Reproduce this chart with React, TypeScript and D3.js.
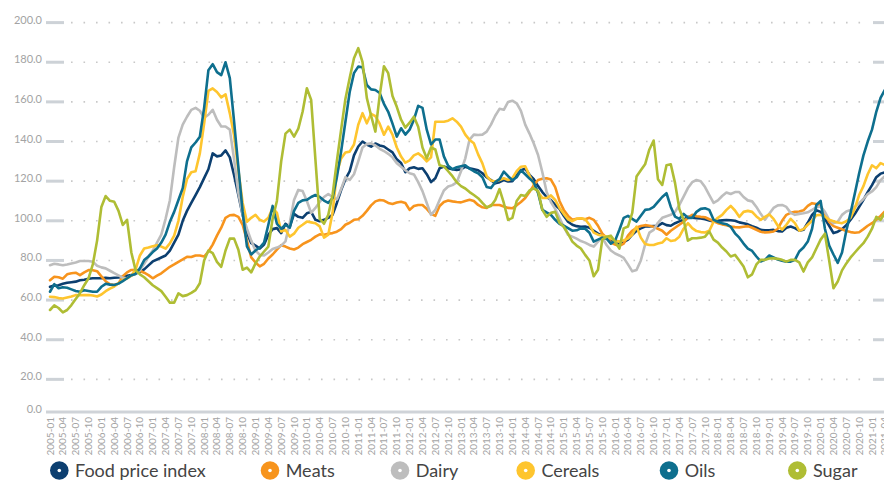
import React from "react";
import * as d3 from "d3";

// Monthly values, 2005-01 .. 2021-04
const FOOD_PRICE_INDEX = [
  66.7, 67.3, 67.5, 68.2, 68.7, 69.0, 69.3, 70.0, 70.3, 70.8, 71.0, 71.0,
  71.0, 71.2, 71.0, 71.3, 71.4, 71.8, 72.2, 72.6, 73.4, 74.2, 75.5, 77.5,
  79.5, 80.5, 81.5, 82.5, 85.0, 89.0, 93.0, 100.0, 105.0, 109.0, 113.0, 117.0,
  121.5, 126.0, 134.0, 132.5, 133.0, 135.5, 132.0, 123.0, 113.0, 103.0, 94.0, 88.7,
  87.5, 86.0, 88.0, 93.0, 95.8, 96.3, 93.8, 98.5, 97.0, 103.5, 102.0, 101.5,
  103.8, 104.5, 100.5, 99.8, 100.5, 101.5, 103.0, 109.0, 115.5, 121.0, 125.0, 133.0,
  137.5, 140.0, 138.5, 137.4, 139.0, 138.0, 137.5, 136.0, 134.5, 131.0, 129.2, 124.5,
  126.5, 127.0, 126.2, 126.5, 123.5, 119.5, 121.5, 126.5, 127.4, 126.5, 126.0, 125.7,
  126.0, 127.3, 126.5, 126.0, 125.5, 124.0, 122.0, 120.5, 118.9, 119.5, 120.6, 119.8,
  120.0, 123.0, 125.5, 126.3, 123.2, 121.0, 117.5, 114.5, 112.0, 110.5, 108.0, 106.0,
  102.5, 99.5, 98.0, 97.3, 97.0, 97.1, 96.5, 95.0, 93.5, 92.5, 91.5, 90.5,
  88.5, 88.5, 89.2, 90.5, 93.0, 95.0, 96.2, 97.1, 97.2, 97.4, 97.4, 98.8,
  97.8, 97.5, 98.8, 99.7, 100.5, 102.0, 101.5, 101.3, 101.2, 100.8, 100.2, 99.6,
  100.0, 100.2, 100.4, 100.3, 100.0, 99.2, 98.8, 98.2, 97.3, 96.5, 95.4, 95.2,
  95.2, 95.4, 94.8, 94.6, 96.5, 97.1, 96.3, 95.0, 95.5, 99.0, 103.0, 105.3,
  104.5, 101.0, 97.5, 93.8, 94.5, 95.8, 97.8, 100.5, 103.5, 107.0, 110.6, 114.5,
  118.0, 122.0, 123.8, 124.5,
];

const MEATS = [
  70.0, 71.8, 71.5, 70.8, 73.0, 73.5, 73.8, 72.6, 74.0, 75.1, 75.1, 74.6,
  72.0, 69.5, 68.0, 67.6, 68.4, 72.0, 74.0, 75.2, 75.3, 74.8, 73.8, 72.6,
  71.0, 72.3, 73.5, 75.2, 76.8, 78.0, 79.3, 80.5, 81.8, 81.7, 82.5, 82.5,
  82.0, 84.5, 88.0, 92.5, 96.5, 101.5, 102.8, 103.0, 102.0, 98.0, 90.0, 81.5,
  79.0, 77.0, 78.3, 81.0, 83.0, 85.5, 87.7, 87.0, 86.0, 85.5, 86.5, 88.2,
  89.3, 90.4, 92.0, 93.2, 93.0, 93.5, 93.8, 94.5, 95.8, 98.0, 99.0, 100.5,
  100.8, 102.5, 105.0, 107.8, 109.8, 110.5, 110.2, 109.0, 108.5, 109.2, 109.6, 109.0,
  105.5, 107.5, 108.0, 108.0, 106.0, 103.5, 102.5, 107.5, 109.5, 110.2, 109.8, 109.5,
  109.3, 110.0, 110.6, 110.0, 108.0, 106.8, 106.5, 108.0, 108.0, 108.0, 107.2, 106.5,
  106.3, 107.8, 109.5, 111.5, 114.5, 118.0, 120.6, 121.2, 121.5, 120.8, 117.0, 110.0,
  105.5, 102.5, 100.5, 101.0, 101.2, 100.8, 101.5, 100.5, 97.5, 93.5, 91.5, 89.0,
  88.0, 87.3, 88.5, 92.5, 95.0, 96.5, 97.4, 97.8, 97.5, 97.0, 96.0, 95.0,
  93.0, 95.0, 96.5, 98.0, 99.5, 101.5, 103.0, 102.3, 102.0, 101.8, 100.8, 99.8,
  98.8, 98.2, 97.8, 97.1, 96.8, 96.7, 97.0, 97.3, 96.5, 95.5, 94.5, 94.1,
  94.3, 94.6, 96.0, 100.0, 103.0, 104.0, 104.5, 104.7, 105.3, 107.5, 108.9, 108.5,
  107.5, 103.5, 99.5, 97.3, 96.5, 95.7, 94.8, 94.3, 94.0, 94.2, 95.8, 97.5,
  98.8, 100.5, 102.5, 104.7,
];

const DAIRY = [
  77.6, 78.3, 78.0, 77.6, 78.0, 78.5, 79.0, 79.7, 79.7, 79.7, 79.3, 77.3,
  76.5, 76.0, 74.8, 73.6, 72.5, 71.2, 71.0, 72.3, 73.2, 75.1, 78.3, 82.0,
  85.0, 89.0, 93.0, 101.0, 110.4, 127.0, 142.0, 148.5, 152.5, 156.0, 157.0, 155.5,
  152.0, 153.5, 156.0, 151.0, 147.6, 147.6, 146.0, 131.0, 114.0, 103.0, 96.0, 90.0,
  85.0, 82.8, 82.5, 84.0, 85.8, 86.5, 87.5, 89.6, 99.0, 110.5, 115.6, 115.0,
  110.0, 104.0, 106.5, 109.5, 112.0, 113.5, 112.0, 110.8, 116.0, 122.0, 120.6, 123.5,
  130.0, 137.0, 138.7, 139.1, 138.0, 136.3, 135.2, 133.8, 132.0, 129.0, 127.3, 125.5,
  124.0, 123.4, 119.5, 115.0, 109.0, 103.0, 105.5, 110.5, 115.3, 117.3, 118.0, 119.4,
  125.0, 131.5, 141.0, 143.5, 143.3, 143.5, 145.0, 148.5, 153.0, 156.5, 156.0, 160.0,
  160.6, 159.3, 155.5, 148.5, 144.0, 139.0, 133.2, 124.5, 114.5, 109.5, 106.0, 101.5,
  97.0, 92.9, 92.0, 91.0, 89.8, 89.0, 87.8, 87.0, 89.5, 91.5, 87.8, 85.0,
  83.5, 82.5, 81.3, 78.0, 74.5, 75.2, 80.0, 88.0, 94.0, 95.4, 99.0, 101.5,
  102.3, 103.0, 104.5, 108.0, 112.2, 116.5, 119.5, 120.6, 120.0, 117.0, 113.0, 109.0,
  110.3, 112.5, 114.3, 113.5, 114.5, 114.5, 112.0, 110.3, 109.8, 107.0, 103.5, 100.5,
  103.5, 106.5, 107.8, 108.0, 107.0, 104.0, 103.0, 103.5, 103.8, 104.3, 105.5, 106.8,
  107.2, 104.5, 100.5, 98.8, 99.5, 103.0, 104.7, 105.5, 107.0, 108.9, 111.0, 113.5,
  114.8, 117.0, 120.5, 122.5,
];

const CEREALS = [
  61.7, 61.5, 61.0, 60.8, 61.3, 61.8, 62.5, 62.4, 62.5, 62.6, 62.3, 61.8,
  62.8, 64.5, 65.8, 66.8, 68.5, 70.0, 71.0, 72.3, 75.5, 82.5, 86.0, 86.5,
  87.2, 87.7, 87.0, 86.0, 88.6, 92.5, 100.0, 112.0, 121.0, 124.5, 125.0, 134.0,
  149.0, 165.5, 166.8, 165.0, 162.3, 163.8, 154.2, 143.0, 125.5, 109.0, 99.5, 101.5,
  103.0, 100.5, 99.6, 101.5, 106.5, 104.0, 94.6, 95.4, 92.0, 93.5, 96.5, 98.0,
  99.6, 99.2, 98.8, 97.2, 91.5, 93.0, 104.0, 124.0, 131.5, 134.5, 134.9, 138.5,
  148.5, 154.3, 149.2, 154.0, 152.8, 149.0, 143.4, 147.5, 143.5, 137.0, 132.4, 129.3,
  130.5, 133.0, 134.0, 132.4, 130.0, 132.0, 150.0, 150.0, 150.0, 150.5, 151.7, 150.0,
  147.5, 143.5, 140.8, 139.1, 133.5, 129.0, 122.5, 120.3, 119.8, 120.6, 121.5, 120.6,
  121.5, 125.0, 127.3, 127.5, 122.8, 118.5, 114.5, 111.5, 111.5, 112.8, 110.5, 106.5,
  103.5, 100.8, 99.8, 101.0, 101.3, 100.8, 98.0, 94.0, 93.0, 92.5, 92.0, 91.0,
  90.0, 89.5, 90.2, 91.0, 93.0, 97.1, 91.5, 88.3, 87.8, 87.8, 88.5, 89.0,
  91.2, 89.8, 90.2, 92.0, 96.0, 98.8, 96.3, 94.8, 94.3, 94.1, 95.0, 99.5,
  101.5, 103.0, 105.5, 107.5, 105.2, 102.0, 104.5, 105.0, 104.5, 102.2, 100.5, 102.0,
  103.2, 101.0, 97.5, 95.6, 98.0, 101.0, 98.8, 95.0, 95.8, 98.0, 100.0, 102.8,
  103.0, 102.2, 100.5, 99.8, 99.1, 98.8, 99.8, 101.5, 106.4, 113.0, 117.5, 123.5,
  128.0, 126.5, 129.1, 128.2,
];

const OILS = [
  64.2, 68.0, 66.0, 66.5, 66.2, 65.4, 64.6, 64.2, 65.0, 64.6, 64.2, 64.2,
  66.7, 68.2, 67.8, 67.6, 68.3, 69.6, 71.0, 72.5, 73.2, 76.0, 80.2, 82.0,
  84.2, 86.0, 89.0, 93.0, 99.5, 104.5, 110.5, 116.5, 130.0, 137.0, 139.5, 142.4,
  157.0, 176.0, 179.0, 175.0, 173.5, 180.0, 172.0, 150.0, 127.0, 104.5, 87.1, 83.0,
  85.0, 86.5, 89.0, 98.0, 107.5, 98.5, 96.0, 98.0, 96.5, 105.0, 109.0, 110.3,
  110.6, 112.0, 113.0, 112.0, 110.2, 109.0, 111.5, 122.0, 135.0, 150.0, 165.0, 174.5,
  177.8, 177.5, 168.5, 166.3, 166.0, 164.5, 159.0, 155.0, 149.0, 142.5, 146.7, 143.5,
  146.0, 151.0, 158.0, 157.0, 146.0, 138.5, 141.0, 141.0, 132.5, 127.8, 126.0, 127.0,
  127.5, 128.0, 126.3, 125.0, 124.0, 122.0, 117.0, 116.5, 119.5, 121.0, 124.8, 122.5,
  120.5, 122.0, 125.5, 123.5, 121.3, 119.5, 114.0, 105.5, 104.2, 103.0, 100.5, 98.5,
  97.5, 96.3, 95.0, 95.2, 96.2, 96.0, 94.0, 89.5, 90.5, 91.5, 91.0, 88.5,
  90.0, 95.5, 101.5, 102.5, 101.0, 99.6, 102.5, 105.5, 105.8, 107.0, 109.5, 112.0,
  113.9, 107.0, 102.1, 101.0, 103.5, 101.5, 101.5, 104.5, 106.0, 106.3, 105.5, 100.5,
  99.5, 98.8, 98.3, 97.0, 93.7, 91.5, 88.5, 86.0, 84.8, 82.0, 79.5, 80.3,
  82.5, 81.5, 80.5, 79.8, 79.4, 79.4, 80.3, 84.5, 86.5, 89.5, 96.0, 108.0,
  110.0, 96.0, 87.5, 83.0, 78.8, 84.0, 95.0, 104.0, 113.9, 124.0, 133.0, 140.0,
  146.0, 155.0, 162.0, 166.0,
];

const SUGAR = [
  55.0, 57.3, 56.0, 53.8, 55.0, 57.5, 60.5, 63.5, 67.5, 71.0, 78.0, 90.0,
  107.0, 112.5, 110.1, 109.6, 105.0, 97.9, 100.5, 84.0, 75.0, 73.0, 71.5, 69.5,
  67.5, 66.0, 64.5, 61.7, 58.7, 58.7, 63.4, 62.0, 62.5, 63.6, 65.0, 68.5,
  80.0, 85.0, 83.7, 79.3, 76.8, 85.0, 91.0, 91.0, 85.4, 75.3, 76.4, 74.0,
  78.5, 82.0, 84.5, 87.0, 101.0, 110.0, 130.0, 144.0, 146.0, 142.5, 146.5, 155.0,
  166.9, 161.0, 130.7, 101.0, 98.5, 103.0, 113.0, 130.0, 146.0, 161.5, 172.0, 182.0,
  187.1, 180.0, 162.0, 153.0, 145.0, 163.0, 178.0, 174.5, 163.0, 157.5, 151.0, 147.0,
  149.5, 152.5, 147.5, 137.0, 131.5, 137.0, 136.0, 128.0, 127.4, 125.0, 122.5, 119.5,
  117.5, 116.3, 114.5, 113.0, 111.4, 109.0, 106.8, 107.5, 110.5, 116.0, 109.0, 100.5,
  101.5, 110.0, 113.0, 112.5, 115.3, 116.4, 115.0, 105.5, 102.0, 104.0, 104.5, 99.0,
  97.0, 93.5, 89.5, 87.5, 86.0, 82.8, 80.0, 72.0, 75.3, 90.5, 92.0, 92.5,
  89.5, 86.0, 96.2, 97.1, 104.0, 122.3, 125.5, 128.5, 136.0, 140.5, 121.0, 118.1,
  128.0, 128.5, 119.0, 106.0, 100.5, 90.0, 91.2, 91.2, 91.5, 92.0, 94.6, 90.5,
  89.0, 86.5, 84.5, 82.0, 82.8, 80.0, 76.9, 71.5, 73.0, 78.0, 80.3, 80.3,
  81.0, 81.1, 80.8, 80.3, 79.4, 80.3, 80.3, 79.0, 74.4, 79.0, 81.5, 86.0,
  90.5, 93.5, 80.0, 66.0, 69.4, 75.0, 78.5, 81.5, 84.0, 86.5, 88.7, 92.0,
  96.0, 102.0, 100.5, 103.8,
];

const START_YEAR = 2005;
const Y_TICKS = [0, 20, 40, 60, 80, 100, 120, 140, 160, 180, 200];

const SERIES = [
  { name: "Food price index", values: FOOD_PRICE_INDEX, color: "#0c3f70" },
  { name: "Meats", values: MEATS, color: "#f7941d" },
  { name: "Dairy", values: DAIRY, color: "#bdbdbd" },
  { name: "Cereals", values: CEREALS, color: "#fec52e" },
  { name: "Oils", values: OILS, color: "#0e6f8e" },
  { name: "Sugar", values: SUGAR, color: "#afbd34" },
];

const LEGEND_X = [59.3, 270, 400, 525.7, 669, 797.3];

function monthLabel(m: number) {
  const yr = START_YEAR + Math.floor(m / 12);
  const mo = (m % 12) + 1;
  return `${yr}-${mo < 10 ? "0" + mo : mo}`;
}

export default function App() {
  const W = 884;
  const H = 481;
  const x = d3.scaleLinear().domain([0, 192]).range([50, 872]);
  const y = d3.scaleLinear().domain([0, 200]).range([419, 22.6]);
  const axisY = 412;
  const n = FOOD_PRICE_INDEX.length;
  const xTicks = d3.range(0, n, 3);
  const line = d3
    .line<number>()
    .x((_, i) => x(i))
    .y((d) => y(d))
    .curve(d3.curveLinear);

  const font = "Lato, 'Open Sans', sans-serif";

  return (
    <svg
      width={W}
      height={H}
      viewBox={`0 0 ${W} ${H}`}
      style={{ position: "absolute", left: 0, top: 0, background: "#fff", display: "block" }}
      fontFamily={font}
    >
      {/* gridlines and y ticks */}
      {Y_TICKS.filter((t) => t > 0).map((t) => (
        <g key={t}>
          <line
            x1={71}
            x2={870}
            y1={y(t)}
            y2={y(t)}
            stroke="#c8c8c8"
            strokeWidth={1.6}
            strokeDasharray="1.6 10.9"
          />
          <line x1={46} x2={64} y1={y(t)} y2={y(t)} stroke="#cdd2d7" strokeWidth={3} />
          <line x1={873} x2={892} y1={y(t)} y2={y(t)} stroke="#cdd2d7" strokeWidth={3} />
          <text x={42} y={y(t) + 1} textAnchor="end" fontSize={11} fill="#a3a3a3">
            {t.toFixed(1)}
          </text>
        </g>
      ))}
      {/* x axis line and 0 label */}
      <line x1={46} x2={W + 10} y1={axisY} y2={axisY} stroke="#cfd3d8" strokeWidth={3} />
      <text x={42} y={axisY + 1} textAnchor="end" fontSize={11} fill="#a3a3a3">
        {(0).toFixed(1)}
      </text>
      {/* x tick labels */}
      {xTicks.map((m) => (
        <text
          key={m}
          transform={`translate(${x(m)},${axisY + 5}) rotate(-90)`}
          textAnchor="end"
          dy="0.35em"
          fontSize={10}
          fill="#a3a3a3"
        >
          {monthLabel(m)}
        </text>
      ))}
      {/* series */}
      {SERIES.map((s) => (
        <path
          key={s.name}
          d={line(s.values) || ""}
          fill="none"
          stroke={s.color}
          strokeWidth={2.6}
          strokeLinejoin="round"
          strokeLinecap="round"
        />
      ))}
      {/* legend */}
      {SERIES.map((s, i) => (
        <g key={s.name} transform={`translate(${LEGEND_X[i]},470.5)`}>
          <circle r={9.3} fill={s.color} />
          <circle r={1.8} fill="#fff" />
          <text x={15.7} y={6.3} fontSize={18} fill="#444">
            {s.name}
          </text>
        </g>
      ))}
    </svg>
  );
}
